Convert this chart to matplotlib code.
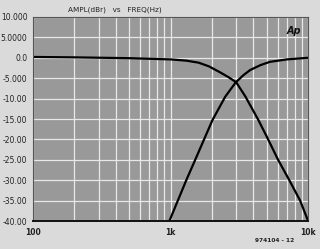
import matplotlib
matplotlib.use("Agg")
import matplotlib.pyplot as plt
import numpy as np

# Filter responses (freq in Hz, level in dBr)
lp_freq = [100, 200, 500, 1000, 1300, 1600, 1900, 2300, 2650, 3000, 3500, 4340, 5000, 6050, 7300, 8750, 10000]
lp_level = [0.2, 0.1, -0.1, -0.4, -0.7, -1.2, -2.1, -3.6, -4.8, -6.0, -9.5, -15.2, -19.3, -25.0, -30.0, -35.0, -40.0]

hp_freq = [980, 1300, 1510, 2020, 2500, 2980, 3400, 3790, 4500, 5270, 7000, 10000]
hp_level = [-40.0, -30.0, -25.0, -15.2, -9.5, -6.0, -4.2, -3.0, -1.8, -1.0, -0.4, 0.0]

y_ticks = [10, 5, 0, -5, -10, -15, -20, -25, -30, -35, -40]
y_labels = ["10.000", "5.0000", "0.0", "-5.000", "-10.00", "-15.00", "-20.00",
            "-25.00", "-30.00", "-35.00", "-40.00"]
x_ticks = [100, 1000, 10000]
x_labels = ["100", "1k", "10k"]

fig = plt.figure(figsize=(3.2, 2.49), dpi=100, facecolor="#dadada")
ax = fig.add_axes([0.103, 0.112, 0.860, 0.820])
ax.set_facecolor("#999999")

ax.plot(lp_freq, lp_level, color="black", lw=1.6)
ax.plot(hp_freq, hp_level, color="black", lw=1.6)

ax.set_xscale("log")
ax.set_xlim(100, 10000)
ax.set_ylim(-40, 10)

ax.set_yticks(y_ticks)
ax.set_yticklabels(y_labels)
ax.set_xticks(x_ticks)
ax.set_xticklabels(x_labels, fontweight="bold")
ax.xaxis.set_minor_locator(matplotlib.ticker.LogLocator(base=10, subs=np.arange(2, 10)))
ax.xaxis.set_minor_formatter(matplotlib.ticker.NullFormatter())

ax.grid(True, which="both", axis="x", color="#e8e8e8", lw=0.9)
ax.grid(True, which="major", axis="y", color="#e8e8e8", lw=0.9)
ax.set_axisbelow(True)
ax.tick_params(which="both", length=0, labelsize=5.5, colors="#222222")
ax.tick_params(axis="x", pad=5)
ax.tick_params(axis="y", pad=4)

for side in ["left", "right", "top"]:
    ax.spines[side].set_color("#555555")
    ax.spines[side].set_linewidth(0.8)
ax.spines["bottom"].set_color("#111111")
ax.spines["bottom"].set_linewidth(1.4)

fig.text(0.36, 0.962, "AMPL(dBr)   vs   FREQ(Hz)", ha="center", va="center",
         fontsize=5.2, color="#222222")
ax.text(0.975, 0.955, "Ap", transform=ax.transAxes, ha="right", va="top",
        fontsize=7, fontweight="bold", style="italic", color="#111111")
fig.text(0.92, 0.036, "974104 - 12", ha="right", va="center",
         fontsize=4.2, fontweight="bold", color="#222222")

fig.savefig("out.png", dpi=100, facecolor=fig.get_facecolor())
